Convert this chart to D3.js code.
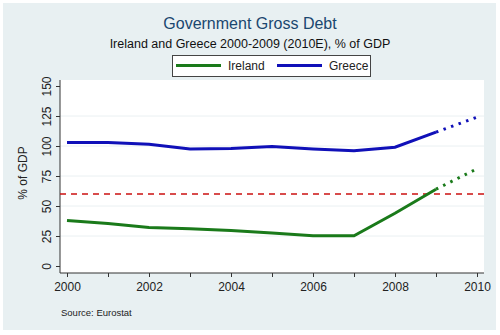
<!DOCTYPE html>
<html>
<head>
<meta charset="utf-8">
<script src="https://cdn.jsdelivr.net/npm/d3@7"></script>
<style>
body { margin: 0; background: #fff; }
text { font-family: "Liberation Sans", Arial, sans-serif; }
</style>
</head>
<body>
<script>
let years = [2000, 2001, 2002, 2003, 2004, 2005, 2006, 2007, 2008, 2009, 2010]
let ireland = [38, 35.5, 32, 31, 29.5, 27.5, 25.2, 25.2, 44, 64, 81]
let greece = [103, 103, 101.5, 97.5, 98, 99.5, 97.5, 96, 99, 111.5, 124]
let yTicks = [0, 25, 50, 75, 100, 125, 150]
let xTicks = [2000, 2001, 2002, 2003, 2004, 2005, 2006, 2007, 2008, 2009, 2010]
let xLabels = [2000, 2002, 2004, 2006, 2008, 2010]
let limit = 60

let W = 500, H = 335
let svg = d3.select('body').append('svg').attr('width', W).attr('height', H)

svg.append('rect').attr('x', 3).attr('y', 3).attr('width', 493).attr('height', 327)
	.attr('fill', '#e8f0f2')

let x = d3.scaleLinear().domain([2000, 2010]).range([67, 477])
let y = d3.scaleLinear().domain([0, 150]).range([266, 86])

// plot region
svg.append('rect').attr('x', 60).attr('y', 80).attr('width', 424).attr('height', 193).attr('fill', '#fff')

// grid
svg.append('g').selectAll('line').data(yTicks.filter(d => d > 0 && d < 150)).join('line')
	.attr('x1', 60).attr('x2', 484)
	.attr('y1', d => y(d)).attr('y2', d => y(d))
	.attr('stroke', '#eaf0f2').attr('stroke-width', 1)

// y axis
let yAxis = svg.append('g').attr('transform', 'translate(60,0)')
	.call(d3.axisLeft(y).tickValues(yTicks).tickSize(4).tickSizeOuter(0))
yAxis.select('.domain').attr('d', 'M0,80V273').attr('stroke', '#333')
yAxis.selectAll('.tick line').attr('stroke', '#333')
yAxis.selectAll('.tick text')
	.attr('transform', 'rotate(-90)')
	.attr('x', 0).attr('y', -9).attr('dy', 0)
	.attr('text-anchor', 'middle')
	.style('font-size', '12px').attr('fill', '#222')

// x axis
let xAxis = svg.append('g').attr('transform', 'translate(0,273)')
	.call(d3.axisBottom(x).tickValues(xTicks).tickSize(4).tickSizeOuter(0)
		.tickFormat(d => xLabels.includes(d) ? d : ''))
xAxis.select('.domain').attr('d', 'M60,0H484').attr('stroke', '#333')
xAxis.selectAll('.tick line').attr('stroke', '#333')
xAxis.selectAll('text').style('font-size', '12px').attr('fill', '#222').attr('dy', '0.95em')

// reference line
svg.append('line').attr('x1', 60).attr('x2', 484).attr('y1', y(limit)).attr('y2', y(limit))
	.attr('stroke', '#cc1111').attr('stroke-width', 1.5).attr('stroke-dasharray', '6,5')

let line = d3.line().x(d => x(d[0])).y(d => y(d[1]))
let series = [
	{name: 'Ireland', v: ireland, color: '#1a7a1a'},
	{name: 'Greece', v: greece, color: '#1010b8'}
]
series.forEach(s => {
	let pts = years.map((yr, i) => [yr, s.v[i]])
	svg.append('path').attr('d', line(pts.slice(0, 10)))
		.attr('fill', 'none').attr('stroke', s.color).attr('stroke-width', 3)
	svg.append('path').attr('d', line(pts.slice(9)))
		.attr('fill', 'none').attr('stroke', s.color).attr('stroke-width', 3)
		.attr('stroke-dasharray', '2.5,5.5')
})

// titles
svg.append('text').attr('x', 250).attr('y', 29).attr('text-anchor', 'middle')
	.style('font-size', '16px').attr('fill', '#1a476f').text('Government Gross Debt')
svg.append('text').attr('x', 250).attr('y', 48).attr('text-anchor', 'middle')
	.style('font-size', '12.5px').attr('fill', '#111').text('Ireland and Greece 2000-2009 (2010E), % of GDP')

// legend
let lg = svg.append('g')
lg.append('rect').attr('x', 172.5).attr('y', 55.5).attr('width', 198).attr('height', 21)
	.attr('fill', '#fff').attr('stroke', '#444')
series.forEach((s, i) => {
	let x0 = 176 + i * 101
	lg.append('line').attr('x1', x0).attr('x2', x0 + 45).attr('y1', 65.5).attr('y2', 65.5)
		.attr('stroke', s.color).attr('stroke-width', 3)
	lg.append('text').attr('x', x0 + 52).attr('y', 70).style('font-size', '12px').attr('fill', '#222').text(s.name)
})

// y title
svg.append('text').attr('transform', 'translate(27,173) rotate(-90)').attr('text-anchor', 'middle')
	.style('font-size', '12px').attr('fill', '#222').text('% of GDP')

svg.append('text').attr('x', 61).attr('y', 316).style('font-size', '9.5px').attr('fill', '#222').text('Source: Eurostat')
</script>
</body>
</html>
